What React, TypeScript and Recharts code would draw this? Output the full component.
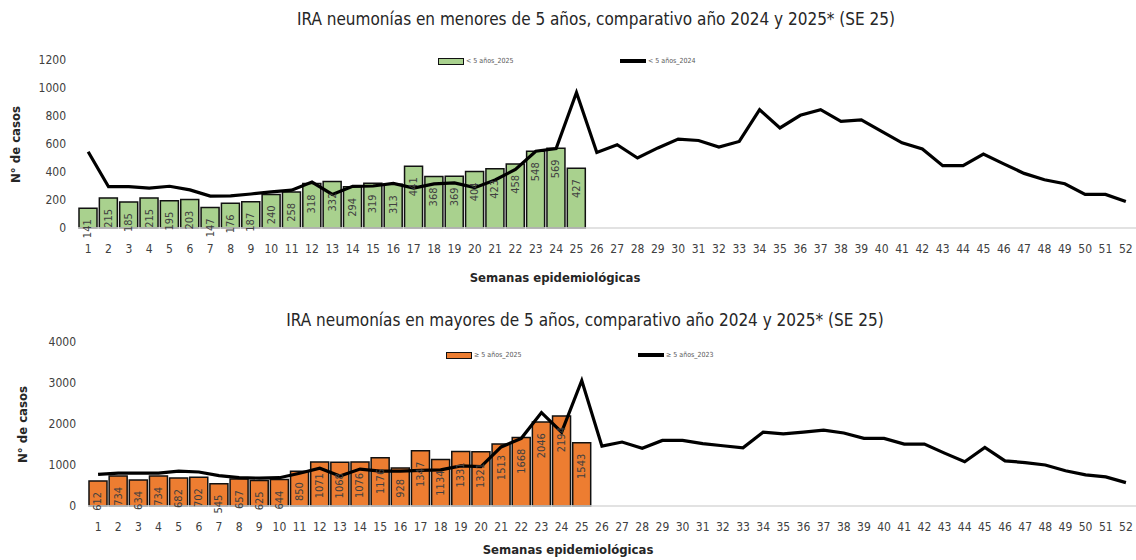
import React from 'react';
import { ComposedChart, Bar, Line, XAxis, YAxis, LabelList } from 'recharts';

const FONT = '"Liberation Sans Narrow", "DejaVu Sans Condensed", "Arial Narrow", sans-serif';
const TEXT = '#404040';

// semanas epidemiológicas
const weeks = [
  '1', '2', '3', '4', '5', '6', '7', '8', '9', '10', '11', '12', '13',
  '14', '15', '16', '17', '18', '19', '20', '21', '22', '23', '24', '25', '26',
  '27', '28', '29', '30', '31', '32', '33', '34', '35', '36', '37', '38', '39',
  '40', '41', '42', '43', '44', '45', '46', '47', '48', '49', '50', '51', '52'
];

// < 5 años
const menores2025 = [
  141, 215, 185, 215, 195, 203, 147, 176, 187, 240, 258, 318, 332,
  294, 319, 313, 441, 368, 369, 404, 423, 458, 548, 569, 427
];
const menores2024 = [
  545, 295, 295, 285, 298, 272, 228, 230, 243, 258, 270, 328, 240,
  298, 300, 318, 285, 315, 322, 288, 343, 418, 548, 568, 968, 540,
  595, 500, 572, 635, 625, 578, 618, 845, 715, 805, 845, 762, 772,
  690, 608, 565, 445, 445, 528, 458, 390, 345, 316, 240, 240, 190
];

// >= 5 años
const mayores2025 = [
  612, 734, 634, 734, 682, 702, 545, 657, 625, 644, 850, 1071, 1068,
  1076, 1176, 928, 1347, 1134, 1331, 1321, 1513, 1668, 2046, 2194, 1543
];
const mayores2023 = [
  770, 800, 800, 800, 850, 830, 740, 690, 680, 690, 800, 920, 730,
  900, 850, 850, 870, 880, 980, 960, 1440, 1650, 2280, 1800, 3060, 1460,
  1560, 1410, 1600, 1600, 1520, 1470, 1420, 1800, 1760, 1800, 1850, 1780, 1650,
  1650, 1510, 1510, 1290, 1080, 1430, 1100, 1060, 1000, 860, 760, 710, 570
];

const ticksMenores = [0, 200, 400, 600, 800, 1000, 1200];
const ticksMayores = [0, 1000, 2000, 3000, 4000];

const buildRows = (bars: number[], line: number[]) =>
  weeks.map((week, i) => ({
    week,
    bar: i < bars.length ? bars[i] : null,
    line: line[i],
  }));

const dataMenores = buildRows(menores2025, menores2024);
const dataMayores = buildRows(mayores2025, mayores2023);

// rotated value, written downward from just under the top of each bar
const RotatedLabel = (props: any) => {
  const { x, y, width, value, fontSize } = props;
  if (value === null || value === undefined) return null;
  const cx = x + width / 2;
  const ty = y + 11;
  return (
    <text
      x={cx}
      y={ty}
      transform={`rotate(-90 ${cx} ${ty})`}
      textAnchor="end"
      dominantBaseline="central"
      fontSize={fontSize}
      fontFamily={FONT}
      fill={TEXT}
    >
      {value}
    </text>
  );
};

interface PanelProps {
  top: number;
  height: number;
  plotTop: number;
  axisWidth: number;
  xAxisHeight: number;
  data: any[];
  ticks: number[];
  barColor: string;
  labelSize: number;
}

const Panel: React.FC<PanelProps> = ({
  top, height, plotTop, axisWidth, xAxisHeight, data, ticks, barColor, labelSize
}) => (
  <div style={{ position: 'absolute', left: 0, top, width: 1136, height }}>
    <ComposedChart
      width={1136}
      height={height}
      data={data}
      margin={{ top: plotTop, right: 0, left: 0, bottom: 0 }}
      barCategoryGap={1}
    >
      <XAxis
        dataKey="week"
        interval={0}
        height={xAxisHeight}
        tickLine={false}
        axisLine={{ stroke: '#d9d9d9', strokeWidth: 1.5 }}
        tickMargin={10}
        tick={{ fontSize: 12, fill: TEXT, fontFamily: FONT }}
      />
      <YAxis
        width={axisWidth}
        domain={[0, ticks[ticks.length - 1]]}
        ticks={ticks}
        interval={0}
        tickLine={false}
        axisLine={false}
        tickMargin={6}
        tick={{ fontSize: 12, fill: TEXT, fontFamily: FONT }}
      />
      <Bar dataKey="bar" fill={barColor} stroke="#111" strokeWidth={1.5} isAnimationActive={false}>
        <LabelList dataKey="bar" content={(p: any) => <RotatedLabel {...p} fontSize={labelSize} />} />
      </Bar>
      <Line
        type="linear"
        dataKey="line"
        stroke="#000"
        strokeWidth={3.2}
        dot={false}
        activeDot={false}
        isAnimationActive={false}
      />
    </ComposedChart>
  </div>
);

const LegendRow = ({ top, barLeft, lineLeft, barColor, barText, lineText }: any) => (
  <>
    <div style={{ position: 'absolute', top, left: barLeft, display: 'flex', alignItems: 'center', fontFamily: FONT, fontSize: 7, color: '#595959' }}>
      <span style={{ display: 'inline-block', width: 24, height: 5, background: barColor, border: '1.5px solid #111', marginRight: 2 }} />
      {barText}
    </div>
    <div style={{ position: 'absolute', top, left: lineLeft, display: 'flex', alignItems: 'center', fontFamily: FONT, fontSize: 7, color: '#595959' }}>
      <span style={{ display: 'inline-block', width: 26, height: 3.5, background: '#000', marginRight: 2 }} />
      {lineText}
    </div>
  </>
);

const textAt = (left: number, top: number, width: number, size: number, bold: boolean) => ({
  position: 'absolute' as const,
  left,
  top,
  width,
  textAlign: 'center' as const,
  fontFamily: FONT,
  fontSize: size,
  fontWeight: bold ? 700 : 400,
  color: '#262626',
  lineHeight: 1,
  whiteSpace: 'nowrap' as const,
});

export default function App() {
  return (
    <div style={{ position: 'absolute', left: 0, top: 0, width: 1136, height: 560, background: '#fff', overflow: 'hidden' }}>
      {/* < 5 años */}
      <div style={textAt(196, 11, 800, 17, false)}>
        IRA neumonías en menores de 5 años, comparativo año 2024 y 2025* (SE 25)
      </div>
      <LegendRow
        top={57}
        barLeft={438}
        lineLeft={620}
        barColor="#a9d18e"
        barText="< 5 años_2025"
        lineText="< 5 años_2024"
      />
      <div style={{ ...textAt(-35, 138, 100, 13, true), transform: 'rotate(-90deg)' }}>N° de casos</div>
      <div style={textAt(405, 271, 300, 13, true)}>Semanas epidemiológicas</div>
      <Panel
        top={0}
        height={278}
        plotTop={60}
        axisWidth={78}
        xAxisHeight={50}
        data={dataMenores}
        ticks={ticksMenores}
        barColor="#a9d18e"
        labelSize={11}
      />

      {/* >= 5 años */}
      <div style={textAt(185, 312, 800, 17, false)}>
        IRA neumonías en mayores de 5 años, comparativo año 2024 y 2025* (SE 25)
      </div>
      <LegendRow
        top={351}
        barLeft={446}
        lineLeft={638}
        barColor="#ed7d31"
        barText="≥ 5 años_2025"
        lineText="≥ 5 años_2023"
      />
      <div style={{ ...textAt(-28, 418, 100, 13, true), transform: 'rotate(-90deg)' }}>N° de casos</div>
      <div style={textAt(418, 543, 300, 13, true)}>Semanas epidemiológicas</div>
      <Panel
        top={290}
        height={270}
        plotTop={52}
        axisWidth={88}
        xAxisHeight={54}
        data={dataMayores}
        ticks={ticksMayores}
        barColor="#ed7d31"
        labelSize={11}
      />
    </div>
  );
}
